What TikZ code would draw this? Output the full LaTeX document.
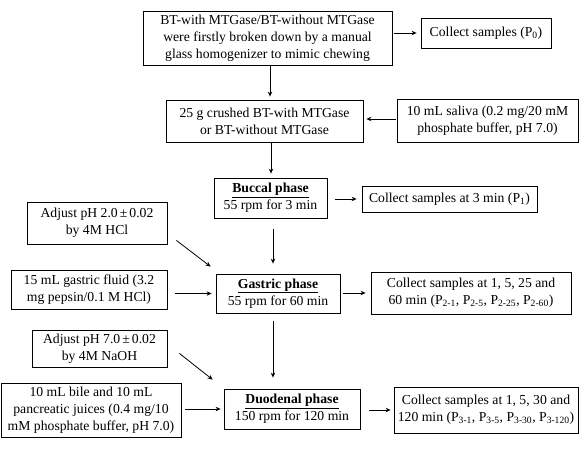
\documentclass[tikz,border=0pt]{standalone}
\usepackage{fontspec}
\setmainfont{Liberation Serif}
\usetikzlibrary{arrows.meta}
\tikzset{
  box/.style={draw, line width=0.8pt, align=center, inner sep=0pt,
    font=\fontsize{13.7}{17}\selectfont},
  arr/.style={line width=0.8pt, -{Stealth[length=5pt,width=4.5pt]}},
}
\newcommand{\ph}[1]{\textbf{\underline{#1}}}
\newcommand{\pmx}{\hspace{0.15em}±\hspace{0.15em}}
\begin{document}
\begin{tikzpicture}[x=1pt,y=-1pt]
\useasboundingbox (0,0) rectangle (579,452);
\node[box, minimum width=249, minimum height=54] (b1) at (267.5,38)
  {BT-with MTGase/BT-without MTGase\\were firstly broken down by a manual\\glass homogenizer to mimic chewing};
\node[box, minimum width=130, minimum height=30] (p0) at (486,33)
  {Collect samples (P\textsubscript{0})};
\node[box, minimum width=197, minimum height=42] (b2) at (264.5,121)
  {25 g crushed BT-with MTGase\\or BT-without MTGase};
\node[box, minimum width=181, minimum height=43] (sal) at (487.5,120.5)
  {10 mL saliva (0.2 mg/20 mM\\phosphate buffer, pH 7.0)};
\node[box, minimum width=113, minimum height=40] (buc) at (270.5,198)
  {\ph{Buccal phase}\\55 rpm for 3 min};
\node[box, minimum width=175, minimum height=26] (p1) at (449.5,199)
  {Collect samples at 3 min (P\textsubscript{1})};
\node[box, minimum width=140, minimum height=42] (adj2) at (97,223)
  {Adjust pH 2.0\pmx0.02\\by 4M HCl};
\node[box, minimum width=156, minimum height=39] (flu) at (89,289.5)
  {15 mL gastric fluid (3.2\\mg pepsin/0.1 M HCl)};
\node[box, minimum width=124, minimum height=39] (gas) at (278,293.5)
  {\ph{Gastric phase}\\55 rpm for 60 min};
\node[box, minimum width=200, minimum height=42] (c2) at (471,293)
  {Collect samples at 1, 5, 25 and\\60 min (P\textsubscript{2-1}, P\textsubscript{2-5}, P\textsubscript{2-25}, P\textsubscript{2-60})};
\node[box, minimum width=135, minimum height=37] (adj7) at (99.5,348.5)
  {Adjust pH 7.0\pmx0.02\\by 4M NaOH};
\node[box, minimum width=180, minimum height=54] (bile) at (91,410)
  {10 mL bile and 10 mL\\pancreatic juices (0.4 mg/10\\mM phosphate buffer, pH 7.0)};
\node[box, minimum width=136, minimum height=40] (duo) at (292,409)
  {\ph{Duodenal phase}\\150 rpm for 120 min};
\node[box, minimum width=184, minimum height=46] (c3) at (486,410)
  {Collect samples at 1, 5, 30 and\\120 min (P\textsubscript{3-1}, P\textsubscript{3-5}, P\textsubscript{3-30}, P\textsubscript{3-120})};

\coordinate (colA) at (270,0);
\coordinate (colB) at (271,0);
\coordinate (colC) at (273,0);

\draw[arr, shorten <=2pt, shorten >=4pt] (b1.east |- p0.west) -- (p0.west);
\draw[arr, shorten >=3pt] (colA |- b1.south) -- (colA |- b2.north);
\draw[arr, shorten <=1pt, shorten >=3pt] ([yshift=1.5pt]sal.west) -- ([yshift=1.5pt]sal.west -| b2.east);
\draw[arr, shorten >=4pt] (colB |- b2.south) -- (colB |- buc.north);
\draw[arr, shorten <=8pt, shorten >=5pt] (buc.east |- p1.west) -- (p1.west);
\draw[arr, shorten <=11pt, shorten >=10pt] (colC |- buc.south) -- (colC |- gas.north);
\draw[arr] ([shift={(9,-4)}]adj2.south east) -- ([shift={(-5,-7)}]gas.north west);
\draw[arr, shorten <=8pt, shorten >=4pt] (flu.east |- gas.west) -- (gas.west);
\draw[arr, shorten <=3pt, shorten >=5pt] (gas.east |- c2.west) -- (c2.west);
\draw[arr, shorten <=8pt, shorten >=11pt] (colC |- gas.south) -- (colC |- duo.north);
\draw[arr] ([shift={(12,-14)}]adj7.south east) -- ([shift={(-11,-9)}]duo.north west);
\draw[arr, shorten <=4pt, shorten >=3pt] (bile.east |- duo.west) -- (duo.west);
\draw[arr, shorten <=9pt, shorten >=3pt] (duo.east |- c3.west) -- (c3.west);
\end{tikzpicture}
\end{document}
